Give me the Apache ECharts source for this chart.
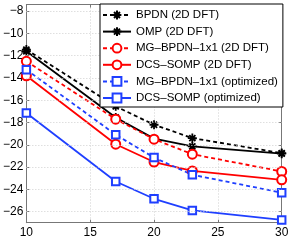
<!DOCTYPE html>
<html><head><meta charset="utf-8">
<script src="https://cdn.jsdelivr.net/npm/echarts@6/dist/echarts.min.js"></script>
<style>html,body{margin:0;padding:0;background:#fff}#c{width:294px;height:240px}</style>
</head><body><div id="c"></div>
<script>
const xValues = [10, 17, 20, 23, 30];
const bpdn2d   = [-11.45, -16.55, -18.2, -19.4, -20.75];
const omp2d    = [-11.6, -17.55, -19.45, -20.15, -20.8];
const mgbpdn2d = [-12.5, -17.7, -19.5, -20.85, -22.4];
const dcs2d    = [-13.8, -19.95, -21.55, -22.35, -23.15];
const mgbpdnOpt = [-13.25, -19.1, -21.15, -22.7, -24.3];
const dcsOpt   = [-17.15, -23.3, -24.85, -25.9, -26.75];
const names = ['BPDN (2D DFT)', 'OMP (2D DFT)', 'MG–BPDN–1x1 (2D DFT)', 'DCS–SOMP (2D DFT)', 'MG–BPDN–1x1 (optimized)', 'DCS–SOMP (optimized)'];
const yTicks = [-26, -24, -22, -20, -18, -16, -14, -12, -10, -8];
const xTicks = [10, 15, 20, 25, 30];

const FONT = 'Liberation Sans, Arial, Helvetica, sans-serif';
const RED = '#ff0000', BLUE = '#1f3fff', BLACK = '#000000';
const STAR = 'path://M5 0 L5 10 M0 5 L10 5 M1.6 1.6 L8.4 8.4 M8.4 1.6 L1.6 8.4';
const zip = arr => xValues.map((x, i) => [x, arr[i]]);
const minus = v => String(v).replace('-', '\u2212');

function mk(name, data, color, dashed, symbol, size) {
  const star = symbol === STAR;
  return {
    name, type: 'line', data: zip(data), symbol, symbolSize: size,
    lineStyle: { color, width: 1.8, type: dashed ? [4, 3] : 'solid' },
    itemStyle: star ? { color, borderColor: color, borderWidth: 1.8 } : { color, borderColor: color, borderWidth: 1.6 },
    emphasis: { disabled: true }, animation: false, clip: false
  };
}

const axisCol = '#777';
const chart = echarts.init(document.getElementById('c'), null, { renderer: 'canvas' });
chart.setOption({
  animation: false,
  backgroundColor: '#fff',
  grid: { left: 25, right: 12.3, top: 4.5, bottom: 17.3, containLabel: false },
  xAxis: [{
    type: 'value', min: 10, max: 30, interval: 5, position: 'bottom',
    axisLine: { show: true, lineStyle: { color: axisCol, width: 1 } },
    axisTick: { show: true, inside: true, length: 3, lineStyle: { color: axisCol } },
    axisLabel: { color: '#000', fontSize: 12, fontFamily: FONT, margin: 4, customValues: xTicks },
    splitLine: { show: true, lineStyle: { color: '#cfcfcf', type: [1, 2], width: 1 } }
  }, {
    type: 'value', min: 10, max: 30, interval: 5, position: 'top',
    axisLine: { show: true, onZero: false, lineStyle: { color: axisCol, width: 1 } },
    axisTick: { show: true, inside: true, length: 3, lineStyle: { color: axisCol } },
    axisLabel: { show: false }, splitLine: { show: false }
  }],
  yAxis: [{
    type: 'value', min: -27, max: -7.4, position: 'left',
    axisLine: { show: true, onZero: false, lineStyle: { color: axisCol, width: 1 } },
    axisTick: { show: true, inside: true, length: 3, lineStyle: { color: axisCol }, customValues: yTicks },
    axisLabel: { color: '#000', fontSize: 12, fontFamily: FONT, margin: 3, customValues: yTicks, formatter: minus },
    splitLine: { show: false }
  }, {
    type: 'value', min: -27, max: -7.4, position: 'right',
    axisLine: { show: true, onZero: false, lineStyle: { color: axisCol, width: 1 } },
    axisTick: { show: true, inside: true, length: 3, lineStyle: { color: axisCol }, customValues: yTicks },
    axisLabel: { show: false }, splitLine: { show: false }
  }],
  legend: {
    data: names, orient: 'vertical', left: 100, top: 4,
    padding: [4, 5, 2, 2], itemWidth: 28, itemHeight: 11, itemGap: 2.6,
    backgroundColor: '#fff', borderColor: '#000', borderWidth: 1,
    textStyle: { fontSize: 11.5, fontFamily: FONT, color: '#000', lineHeight: 14 },
    selectedMode: false, z: 10
  },
  series: [
    { name: 'grid', type: 'line', data: [], silent: true, z: 0,
      markLine: { silent: true, symbol: 'none', label: { show: false }, animation: false,
        lineStyle: { color: '#cfcfcf', type: [1, 2], width: 1 },
        data: yTicks.map(v => ({ yAxis: v })) } },
    mk(names[0], bpdn2d, BLACK, true, STAR, 9),
    mk(names[1], omp2d, BLACK, false, STAR, 9),
    mk(names[2], mgbpdn2d, RED, true, 'emptyCircle', 9),
    mk(names[3], dcs2d, RED, false, 'emptyCircle', 9),
    mk(names[4], mgbpdnOpt, BLUE, true, 'emptyRect', 7.5),
    mk(names[5], dcsOpt, BLUE, false, 'emptyRect', 7.5)
  ]
});
</script></body></html>
